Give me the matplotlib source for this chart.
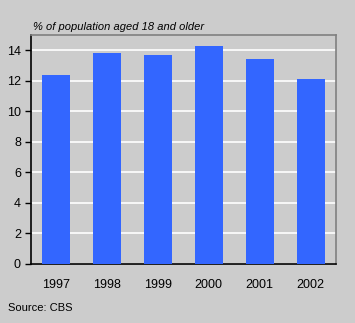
import matplotlib
matplotlib.use("Agg")
import matplotlib.pyplot as plt

years = ["1997", "1998", "1999", "2000", "2001", "2002"]
share = [12.4, 13.8, 13.7, 14.3, 13.4, 12.1]
yticks = [0, 2, 4, 6, 8, 10, 12, 14]

bg = "#CCCCCC"
bar_color = "#3366FF"
plt.rcParams["font.family"] = ["Liberation Sans", "DejaVu Sans"]

W, H = 355, 323
fig = plt.figure(figsize=(W / 100, H / 100), dpi=100, facecolor=bg)
left, right, top, bottom = 30.7, 336, 35, 264
ax = fig.add_axes([left / W, 1 - bottom / H, (right - left) / W, (bottom - top) / H])
ax.set_facecolor(bg)

x = range(len(years))
ax.bar(x, share, width=0.55, color=bar_color, zorder=3)
ax.set_xlim(-0.5, len(years) - 0.5)
ax.set_ylim(0, 15)
ax.set_yticks(yticks)
ax.set_xticks(list(x))
ax.set_xticklabels(years)
ax.yaxis.grid(True, color="white", linewidth=1.2, zorder=1)
ax.tick_params(axis="y", length=4, width=1, color="black", labelsize=9, pad=3)
ax.tick_params(axis="x", length=0, labelsize=9, pad=11)

for side in ("left", "bottom"):
    ax.spines[side].set_color("black")
    ax.spines[side].set_linewidth(1.2)
for side in ("top", "right"):
    ax.spines[side].set_color("#808080")
    ax.spines[side].set_linewidth(1.2)

fig.text(33 / W, 1 - 27 / H, "% of population aged 18 and older", fontsize=8,
         style="italic", ha="left", va="center")
fig.text(8 / W, 1 - 308 / H, "Source: CBS", fontsize=8, ha="left", va="center")

fig.savefig("out.png", dpi=100, facecolor=bg)
